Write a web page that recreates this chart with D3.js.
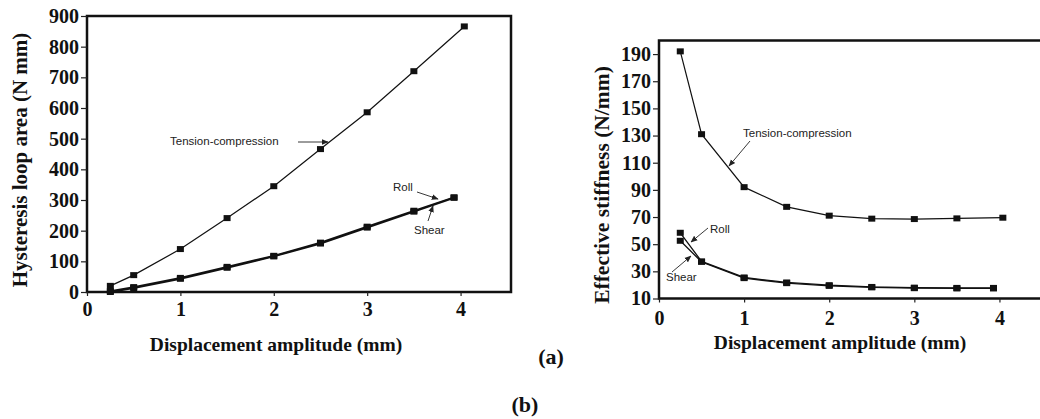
<!DOCTYPE html>
<html>
<head>
<meta charset="utf-8">
<script src="https://cdn.jsdelivr.net/npm/d3@7"></script>
<style>
  body { margin: 0; background: #fff; }
  .tick text { font-family: "Liberation Serif", serif; font-weight: bold; font-size: 20px; fill: #111; }
  .title { font-family: "Liberation Serif", serif; font-weight: bold; fill: #111; }
  .note { font-family: "Liberation Sans", Arial, sans-serif; font-size: 11.5px; fill: #222; }
</style>
</head>
<body>
<div id="canvas"></div>
<script>
// displacement amplitudes (mm)
const ampTension = [0.25, 0.5, 1, 1.5, 2, 2.5, 3, 3.5, 4.04];
const ampRollShear = [0.25, 0.5, 1, 1.5, 2, 2.5, 3, 3.5, 3.93];

// (a) hysteresis loop area (N mm)
const areaTension = [20, 55, 140, 241, 345, 466, 586, 720, 866];
const areaRoll = [3, 16, 46, 82, 118, 161, 213, 265, 309];
const areaShear = [0, 13, 43, 79, 116, 158, 210, 262, 307];

// (b) effective stiffness (N/mm)
const stiffTension = [192, 131, 92, 77.5, 71, 68.8, 68.5, 69, 69.5];
const stiffRoll = [58.4, 37.3, 25.5, 21.8, 19.8, 18.5, 18, 17.8, 17.8];
const stiffShear = [52.5, 37, 25, 21.3, 19.3, 18.2, 17.6, 17.4, 17.4];

const xTicks = [0, 1, 2, 3, 4];
const areaTicks = [0, 100, 200, 300, 400, 500, 600, 700, 800, 900];
const stiffTicks = [10, 30, 50, 70, 90, 110, 130, 150, 170, 190];

const svg = d3.select("#canvas").append("svg")
  .attr("width", 1040)
  .attr("height", 419);

svg.append("defs").append("marker")
  .attr("id", "arrow")
  .attr("viewBox", "0 0 10 10")
  .attr("refX", 9).attr("refY", 5)
  .attr("markerWidth", 7).attr("markerHeight", 7)
  .attr("markerUnits", "userSpaceOnUse")
  .attr("orient", "auto")
  .append("path")
  .attr("d", "M0,1L10,5L0,9Z")
  .attr("fill", "#222");

function drawPanel(opt) {
  const x = d3.scaleLinear().domain(opt.xDomain).range(opt.xRange);
  const y = d3.scaleLinear().domain(opt.yDomain).range(opt.yRange);
  const g = svg.append("g");

  // frame
  g.append("rect")
    .attr("x", opt.xRange[0]).attr("y", opt.yRange[1])
    .attr("width", opt.xRange[1] - opt.xRange[0])
    .attr("height", opt.yRange[0] - opt.yRange[1])
    .attr("fill", "none").attr("stroke", "#111").attr("stroke-width", 2.5);

  const xAxis = g.append("g")
    .attr("transform", `translate(0,${opt.yRange[0]})`)
    .call(d3.axisBottom(x).tickValues(xTicks).tickFormat(d3.format("d")).tickSize(4).tickPadding(opt.xPad));
  const yAxis = g.append("g")
    .attr("transform", `translate(${opt.xRange[0]},0)`)
    .call(d3.axisLeft(y).tickValues(opt.yTicks).tickSize(6).tickPadding(2));
  [xAxis, yAxis].forEach(a => {
    a.select(".domain").remove();
    a.selectAll(".tick line").attr("stroke", "#222").attr("stroke-width", 1.2);
  });

  const line = d3.line().x(d => x(d[0])).y(d => y(d[1]));
  opt.series.forEach(s => {
    const pts = s.xs.map((v, i) => [v, s.ys[i]]);
    g.append("path").datum(pts)
      .attr("d", line)
      .attr("fill", "none").attr("stroke", "#111").attr("stroke-width", s.w);
    g.selectAll(null).data(pts).enter().append("rect")
      .attr("x", d => x(d[0]) - 3.5).attr("y", d => y(d[1]) - 3)
      .attr("width", 7).attr("height", 6)
      .attr("fill", "#111");
  });

  opt.notes.forEach(n => {
    g.append("text").attr("class", "note")
      .attr("x", n.tx).attr("y", n.ty).text(n.label);
    g.append("line")
      .attr("x1", n.a[0]).attr("y1", n.a[1]).attr("x2", n.a[2]).attr("y2", n.a[3])
      .attr("stroke", "#222").attr("stroke-width", 0.9)
      .attr("marker-end", "url(#arrow)");
  });

  g.append("text").attr("class", "title")
    .attr("x", opt.xTitle[0]).attr("y", opt.xTitle[1])
    .attr("text-anchor", "middle").attr("font-size", 19.5)
    .text("Displacement amplitude (mm)");
  g.append("text").attr("class", "title")
    .attr("transform", `translate(${opt.yTitle[0]},${opt.yTitle[1]}) rotate(-90)`)
    .attr("text-anchor", "middle").attr("font-size", opt.yTitleSize)
    .text(opt.yLabel);
}

drawPanel({
  xDomain: [0, 4.54], xRange: [87, 511],
  yDomain: [0, 900], yRange: [292, 16],
  yTicks: areaTicks, xPad: 6,
  series: [
    { xs: ampTension, ys: areaTension, w: 1.2 },
    { xs: ampRollShear, ys: areaRoll, w: 1.8 },
    { xs: ampRollShear, ys: areaShear, w: 1.8 }
  ],
  notes: [
    { label: "Tension-compression", tx: 170, ty: 145, a: [298, 142, 328, 142] },
    { label: "Roll", tx: 393, ty: 191, a: [417, 192, 438, 199] },
    { label: "Shear", tx: 414, ty: 234, a: [428, 221, 433, 206] }
  ],
  xTitle: [276, 351],
  yTitle: [27, 160], yTitleSize: 21,
  yLabel: "Hysteresis loop area (N mm)"
});

drawPanel({
  xDomain: [0, 4.5], xRange: [659, 1042],
  yDomain: [10, 200], yRange: [298.5, 40.5],
  yTicks: stiffTicks, xPad: 8,
  series: [
    { xs: ampTension, ys: stiffTension, w: 1.2 },
    { xs: ampRollShear, ys: stiffRoll, w: 1.3 },
    { xs: ampRollShear, ys: stiffShear, w: 1.3 }
  ],
  notes: [
    { label: "Tension-compression", tx: 743, ty: 137, a: [750, 141, 729, 166] },
    { label: "Roll", tx: 710, ty: 233, a: [708, 228, 691, 242] },
    { label: "Shear", tx: 666, ty: 281, a: [672, 272, 691, 256] }
  ],
  xTitle: [840, 349],
  yTitle: [609, 185], yTitleSize: 21.5,
  yLabel: "Effective stiffness (N/mm)"
});

svg.append("text").attr("class", "title")
  .attr("x", 551).attr("y", 364).attr("text-anchor", "middle").attr("font-size", 22)
  .text("(a)");
svg.append("text").attr("class", "title")
  .attr("x", 525).attr("y", 412).attr("text-anchor", "middle").attr("font-size", 22)
  .text("(b)");
</script>
</body>
</html>
